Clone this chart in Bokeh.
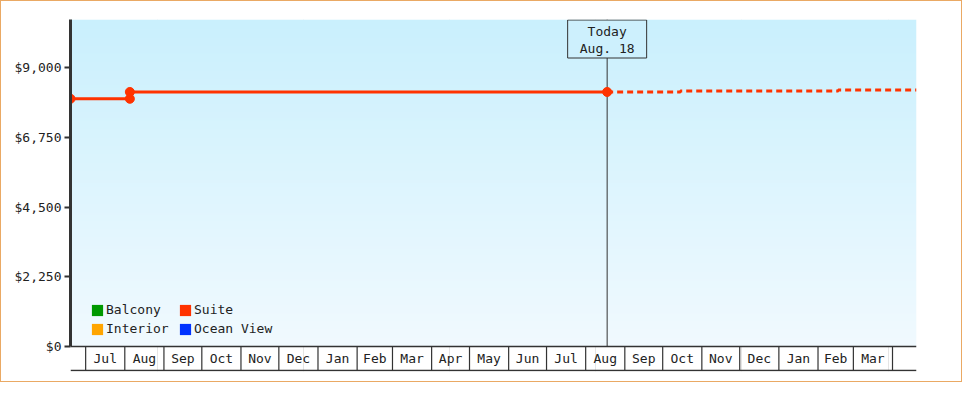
import numpy as np
import pandas as pd
from bokeh.plotting import figure
from bokeh.models import Range1d, FixedTicker, NumeralTickFormatter, Legend, LegendItem, Span
from bokeh.core.properties import value
from bokeh.embed import file_html
from bokeh.resources import INLINE

# ---------------- data ----------------
categories = ["Balcony", "Interior", "Suite", "Ocean View"]
category_colors = ["#009900", "#ffa500", "#ff3300", "#0033ff"]

suite_dates = ["2021-06-19", "2021-08-05", "2021-08-05", "2022-08-18"]
suite_prices = [8000, 8000, 8220, 8220]

forecast_dates = ["2022-08-18", "2022-10-15", "2022-10-15", "2023-02-17", "2023-02-17", "2023-04-20"]
forecast_prices = [8220, 8220, 8250, 8250, 8285, 8285]

today_date = "2022-08-18"
today_label = ["Today", "Aug. 18"]

x_start_date = "2021-06-19"
x_end_date = "2023-04-20"
y_max = 10560
y_ticks = [0, 2250, 4500, 6750, 9000]

month_starts = ["2021-07-01", "2021-08-01", "2021-09-01", "2021-10-01", "2021-11-01", "2021-12-01",
                "2022-01-01", "2022-02-01", "2022-03-01", "2022-04-01", "2022-05-01", "2022-06-01",
                "2022-07-01", "2022-08-01", "2022-09-01", "2022-10-01", "2022-11-01", "2022-12-01",
                "2023-01-01", "2023-02-01", "2023-03-01", "2023-04-01"]
month_labels = ["Jul", "Aug", "Sep", "Oct", "Nov", "Dec", "Jan", "Feb", "Mar", "Apr", "May", "Jun",
                "Jul", "Aug", "Sep", "Oct", "Nov", "Dec", "Jan", "Feb", "Mar"]

# ---------------- helpers ----------------
def ms(dates):
    return [pd.Timestamp(d).value / 1e6 for d in dates]

FONT = "DejaVu Sans Mono"
INK = "#333333"
TXT = "#222222"

W, H = 962, 382
LEFT, RIGHT, TOP, BOTTOM = 69, 47, 18, 12
frame_h = H - TOP - BOTTOM          # 352
plot_px = 327                        # px from $0 to top
k = plot_px / y_max                  # px per dollar
band = 24 / k
y_start = -(frame_h - plot_px) / k

x0, x1 = ms([x_start_date, x_end_date])

p = figure(width=W, height=H, output_backend="svg", toolbar_location=None,
           x_axis_location=None, x_range=Range1d(x0, x1), y_range=Range1d(y_start, y_max),
           min_border_left=LEFT, min_border_right=RIGHT, min_border_top=TOP, min_border_bottom=BOTTOM)
p.styles = {"border": "1px solid #eaa964"}
p.outline_line_color = None
p.ygrid.visible = False
p.background_fill_color = "white"
p.border_fill_color = "white"

# gradient background
n = 256
top_c = np.array([202, 240, 253])
bot_c = np.array([241, 250, 255])
t = np.linspace(0, 1, n)[:, None]
cols = (bot_c * (1 - t) + top_c * t).astype(np.uint32)
img = np.zeros((n, 2), dtype=np.uint32)
view = img.view(dtype=np.uint8).reshape((n, 2, 4))
view[:, :, 0] = cols[:, 0:1]
view[:, :, 1] = cols[:, 1:2]
view[:, :, 2] = cols[:, 2:3]
view[:, :, 3] = 255
p.image_rgba(image=[img], x=x0, y=0, dw=x1 - x0, dh=y_max)

# axes lines
p.add_layout(Span(location=0, dimension="width", line_color=INK, line_width=1.5))
p.add_layout(Span(location=-band, dimension="width", line_color=INK, line_width=1.5))

# month band
m = ms(month_starts)
p.segment(x0=m, y0=[0] * len(m), x1=m, y1=[-band] * len(m), line_color=INK, line_width=1.2)
mids = [(a + b) / 2 for a, b in zip(m[:-1], m[1:])]
p.text(x=mids, y=[-band / 2] * len(mids), text=month_labels, text_font=value(FONT),
       text_font_size="13px", text_align="center", text_baseline="middle", text_color=TXT)

# today marker
tx = ms([today_date])[0]
p.segment(x0=[tx], y0=[0], x1=[tx], y1=[y_max], line_color=INK, line_width=1)
p.rect(x=[tx], y=[y_max - 19.5 / k], width=79, height=38, width_units="screen", height_units="screen",
       fill_color="#cdf0fd", line_color=INK, line_width=1)
p.text(x=[tx, tx], y=[y_max - 12 / k, y_max - 28.5 / k], text=today_label, text_font=value(FONT),
       text_font_size="13px", text_align="center", text_baseline="middle", text_color=TXT)

# suite series
suite_color = category_colors[categories.index("Suite")]
p.line(ms(suite_dates), suite_prices, line_color=suite_color, line_width=3)
p.line(ms(forecast_dates), forecast_prices, line_color=suite_color, line_width=3, line_dash="6 4")
p.scatter(ms(suite_dates), suite_prices, marker="circle", size=9, fill_color=suite_color, line_color=suite_color)

# legend (zero-size swatches so only the legend glyph shows)
items = []
for name, c in zip(categories, category_colors):
    r = p.quad(left=[x0], right=[x0], top=[0], bottom=[0], fill_color=c, line_color=None)
    items.append(LegendItem(label=name, renderers=[r]))
legend = Legend(items=items, ncols=2, orientation="vertical", location=(20, 33),
                glyph_width=14, glyph_height=14, label_standoff=2, label_height=19, label_width=72,
                spacing=0, padding=0, margin=0, background_fill_alpha=0, border_line_color=None,
                label_text_font=FONT, label_text_font_size="13px", label_text_color=TXT)
p.add_layout(legend)

# y axis
ax = p.yaxis[0]
ax.ticker = FixedTicker(ticks=y_ticks)
ax.formatter = NumeralTickFormatter(format="$0,0")
ax.bounds = (0, y_max)
ax.axis_line_width = 3
ax.axis_line_color = INK
ax.major_tick_out = 6
ax.major_tick_in = 0
ax.major_tick_line_width = 2
ax.major_tick_line_color = INK
ax.minor_tick_out = 0
ax.minor_tick_in = 0
ax.major_label_text_font = FONT
ax.major_label_text_font_size = "13px"
ax.major_label_text_color = TXT
ax.major_label_standoff = 3

open("out.html", "w").write(file_html(p, INLINE))
